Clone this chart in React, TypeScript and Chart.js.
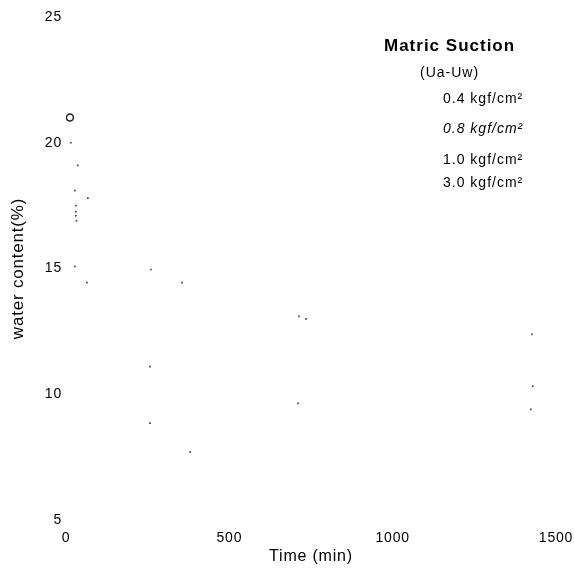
import React, { useEffect, useRef } from "react";
import { Chart, registerables } from "chart.js";

Chart.register(...registerables);

// Time (min) and water content (%) for each matric suction level
const series04X = [12, 15, 260, 713, 1426];
const series04Y = [21.0, 20.0, 14.96, 13.1, 12.38];
const series08X = [36, 27, 355, 735, 1429];
const series08Y = [19.1, 18.1, 14.44, 13.0, 10.32];
const series10X = [67, 30, 30, 257, 710, 1423];
const series10Y = [17.8, 17.5, 17.26, 11.1, 9.64, 9.4];
const series30X = [30, 32, 27, 64, 257, 380];
const series30Y = [17.1, 16.9, 15.08, 14.44, 8.85, 7.7];

const legendTitle = "Matric Suction";
const legendSubtitle = "(Ua-Uw)";
const legendLabels = ["0.4 kgf/cm²", "0.8 kgf/cm²", "1.0 kgf/cm²", "3.0 kgf/cm²"];
const xTicks = [0, 500, 1000, 1500];
const yTicks = [5, 10, 15, 20, 25];

const FONT = "'Liberation Sans', Arial, sans-serif";

const toPoints = (xs: number[], ys: number[]) => xs.map((x, i) => ({ x, y: ys[i] }));

const spacingPlugin = {
  id: "spacing",
  beforeUpdate(chart: any) {
    chart.ctx.letterSpacing = "0.8px";
  },
  beforeDraw(chart: any) {
    chart.ctx.letterSpacing = "0.8px";
  },
};

const legendPlugin = {
  id: "suctionLegend",
  afterDraw(chart: any) {
    const ctx = chart.ctx;
    ctx.save();
    ctx.fillStyle = "#000";
    ctx.textBaseline = "middle";
    ctx.textAlign = "left";
    ctx.letterSpacing = "1px";
    ctx.font = `bold 17px ${FONT}`;
    ctx.fillText(legendTitle, 384, 46);
    ctx.font = `14px ${FONT}`;
    ctx.fillText(legendSubtitle, 420, 73);
    const ys = [99, 129, 160, 183];
    legendLabels.forEach((t, i) => {
      ctx.font = (i === 1 ? "italic " : "") + `14px ${FONT}`;
      ctx.fillText(t, 443, ys[i]);
    });
    ctx.restore();
  },
};

export default function App() {
  const ref = useRef<HTMLCanvasElement | null>(null);
  useEffect(() => {
    if (!ref.current) return;
    const dot = {
      showLine: false,
      pointStyle: "rect" as const,
      pointRadius: 1.2,
      pointBackgroundColor: "#444",
      pointBorderColor: "#444",
      pointBorderWidth: 0,
    };
    const chart = new Chart(ref.current, {
      type: "scatter",
      data: {
        datasets: [
          {
            label: legendLabels[0],
            data: toPoints(series04X, series04Y),
            ...dot,
            pointStyle: series04X.map((_, i) => (i === 0 ? "circle" : "rect")) as any,
            pointRadius: series04X.map((_, i) => (i === 0 ? 3.5 : 1.2)),
            pointBackgroundColor: series04X.map((_, i) => (i === 0 ? "rgba(0,0,0,0)" : "#444")),
            pointBorderColor: "#222",
            pointBorderWidth: series04X.map((_, i) => (i === 0 ? 1.5 : 0)),
          },
          { label: legendLabels[1], data: toPoints(series08X, series08Y), ...dot },
          { label: legendLabels[2], data: toPoints(series10X, series10Y), ...dot },
          { label: legendLabels[3], data: toPoints(series30X, series30Y), ...dot },
        ],
      },
      options: {
        animation: false,
        responsive: false,
        layout: { padding: { top: 17, right: 18, left: 0, bottom: 0 } },
        plugins: { legend: { display: false }, tooltip: { enabled: false } },
        scales: {
          x: {
            type: "linear",
            min: 0,
            max: 1500,
            afterBuildTicks: (s: any) => {
              s.ticks = xTicks.map((v) => ({ value: v }));
            },
            afterFit: (s: any) => {
              s.height = 52;
              s.paddingLeft = 0;
              s.paddingRight = 0;
            },
            grid: { display: false, drawTicks: false },
            border: { display: false },
            ticks: {
              color: "#000",
              font: { family: FONT, size: 14 },
              padding: 10,
              maxRotation: 0,
              callback: (v: any) => String(v),
            },
            title: {
              display: true,
              text: "Time (min)",
              color: "#000",
              font: { family: FONT, size: 16 },
              padding: { top: 0, bottom: 6 },
            },
          },
          y: {
            type: "linear",
            min: 5,
            max: 25,
            afterBuildTicks: (s: any) => {
              s.ticks = yTicks.map((v) => ({ value: v }));
            },
            afterFit: (s: any) => {
              s.width = 66;
              s.paddingTop = 0;
              s.paddingBottom = 0;
            },
            grid: { display: false, drawTicks: false },
            border: { display: false },
            ticks: {
              color: "#000",
              font: { family: FONT, size: 14 },
              padding: 4,
              callback: (v: any) => String(v),
            },
            title: {
              display: true,
              text: "water content(%)",
              color: "#000",
              font: { family: FONT, size: 17 },
              padding: { top: 8, bottom: 0 },
            },
          },
        },
      },
      plugins: [spacingPlugin, legendPlugin],
    });
    return () => chart.destroy();
  }, []);
  return (
    <div style={{ position: "fixed", left: 0, top: 0, width: 574, height: 572, background: "#fff" }}>
      <canvas ref={ref} width={574} height={572} style={{ width: 574, height: 572, display: "block" }} />
    </div>
  );
}
